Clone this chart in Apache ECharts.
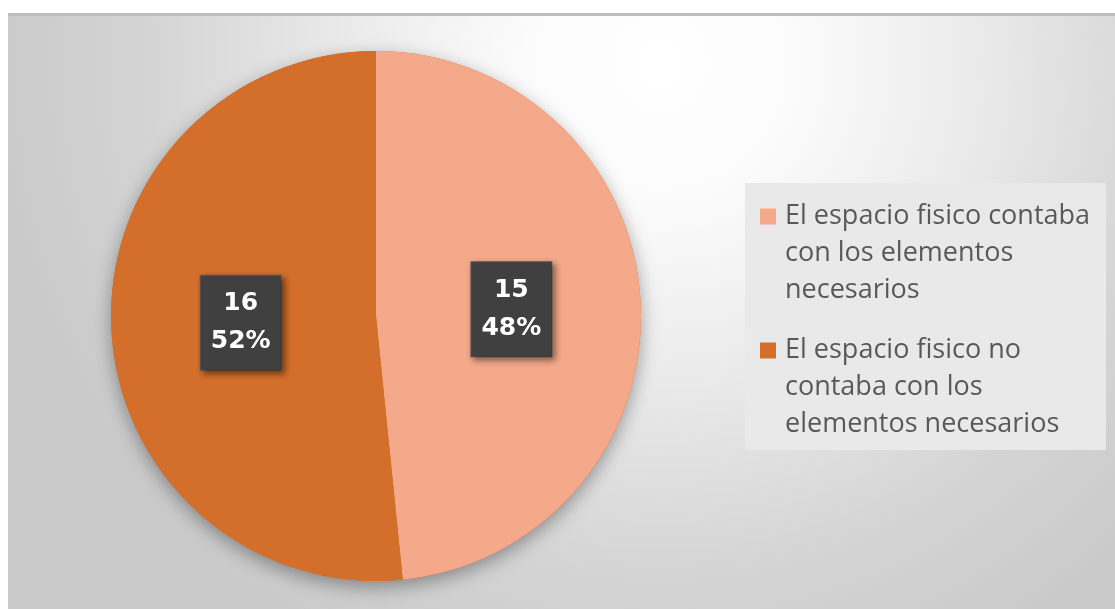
<!DOCTYPE html>
<html>
<head>
<meta charset="utf-8">
<script src="https://cdn.jsdelivr.net/npm/echarts@6/dist/echarts.min.js"></script>
<style>
  html, body { margin: 0; padding: 0; background: #fff; }
  #borde { position: absolute; left: 8px; top: 13px; width: 1107px; height: 3px; background: #bdbdbd; }
  #grafico { position: absolute; left: 8px; top: 16px; width: 1107px; height: 593px; }
</style>
</head>
<body>
<div id="borde"></div>
<div id="grafico"></div>
<script>
var categorias = ['El espacio fisico contaba con los elementos necesarios',
                  'El espacio fisico no contaba con los elementos necesarios'];
var lineasLeyenda = [
  ['El espacio fisico contaba', 'con los elementos', 'necesarios'],
  ['El espacio fisico no', 'contaba con los', 'elementos necesarios']
];
var valores = [15, 16];
var colores = ['#F3A98A', '#D36F2B'];

var grafico = echarts.init(document.getElementById('grafico'));

var total = valores.reduce(function (a, b) { return a + b; }, 0);

var option = {
  backgroundColor: {
    type: 'radial', x: 0.59, y: 0.08, r: 1.15,
    colorStops: [
      { offset: 0, color: '#ffffff' },
      { offset: 0.2, color: '#fbfbfb' },
      { offset: 0.45, color: '#ebebeb' },
      { offset: 0.75, color: '#d4d4d4' },
      { offset: 1, color: '#c9c9c9' }
    ]
  },
  color: colores,
  legend: {
    orient: 'vertical',
    left: 737,
    top: 167,
    padding: [20, 16, 12, 10],
    backgroundColor: '#e9e9e9',
    itemGap: 33,
    itemWidth: 0,
    itemHeight: 0,
    icon: 'rect',
    selectedMode: false,
    data: categorias,
    formatter: function (name) {
      var i = categorias.indexOf(name);
      return lineasLeyenda[i].map(function (l, k) {
        return (k === 0 ? '{c' + i + '|}{g|}' : '{sp|}') + '{t|' + l + '}';
      }).join('\n');
    },
    textStyle: {
      rich: {
        c0: { width: 16, height: 16, backgroundColor: colores[0] },
        c1: { width: 16, height: 16, backgroundColor: colores[1] },
        g: { width: 9 },
        sp: { width: 25 },
        t: { fontFamily: 'Open Sans', fontSize: 27, color: '#595959', lineHeight: 37 }
      }
    }
  },
  series: [
    {
      // sombra bajo el circulo
      type: 'pie',
      silent: true,
      center: [368, 300],
      radius: 265,
      z: 1,
      label: { show: false },
      labelLine: { show: false },
      data: [{ value: total, name: '' }],
      itemStyle: {
        color: '#d36f2b',
        shadowBlur: 18,
        shadowOffsetY: 6,
        shadowColor: 'rgba(0,0,0,0.35)'
      }
    },
    {
      type: 'pie',
      center: [368, 300],
      radius: 265,
      startAngle: 90,
      clockwise: true,
      z: 2,
      data: categorias.map(function (c, i) { return { name: c, value: valores[i] }; }),
      label: {
        show: true,
        position: 'inside',
        formatter: function (p) { return p.value + '\n' + Math.round(p.percent) + '%'; },
        fontFamily: 'DejaVu Sans',
        fontWeight: 'bold',
        fontSize: 25,
        lineHeight: 38,
        color: '#ffffff',
        backgroundColor: '#404040',
        borderColor: '#5a5a5a',
        borderWidth: 1,
        padding: [9, 10, 9, 10],
        shadowBlur: 6,
        shadowOffsetX: 3,
        shadowOffsetY: 3,
        shadowColor: 'rgba(0,0,0,0.45)'
      },
      labelLine: { show: false },
      emphasis: { scale: false }
    }
  ]
};

grafico.setOption(option);
</script>
</body>
</html>
